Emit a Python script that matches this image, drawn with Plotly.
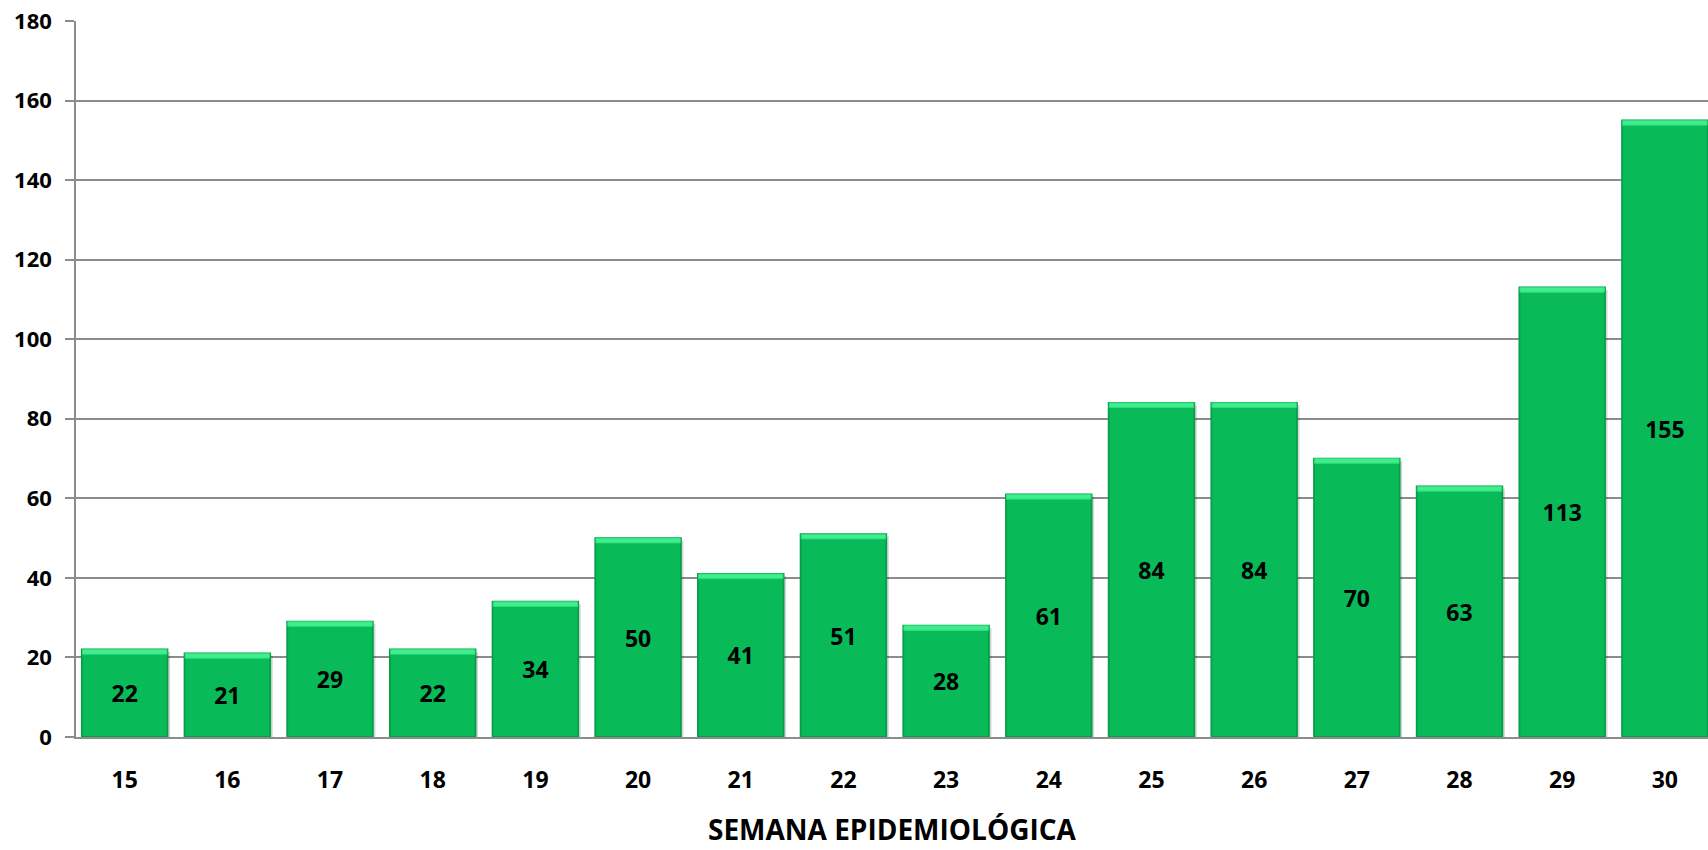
import plotly.graph_objects as go

semanas = ["15", "16", "17", "18", "19", "20", "21", "22", "23", "24", "25", "26", "27", "28", "29", "30"]
casos = [22, 21, 29, 22, 34, 50, 41, 51, 28, 61, 84, 84, 70, 63, 113, 155]
y_ticks = [0, 20, 40, 60, 80, 100, 120, 140, 160, 180]
x_title = "SEMANA EPIDEMIOLÓGICA"

FONT = "Open Sans"
BAR_W = 0.834
bevel = 1.2   # height of top highlight in data units
shadow_dx = 0.025  # shadow shift (category units)

fig = go.Figure()
# soft shadow behind each bar
fig.add_trace(go.Bar(
    x=semanas, y=[v - 0.6 for v in casos],
    marker=dict(color="rgba(0,0,0,0.16)", line=dict(width=0)),
    width=BAR_W, offset=-BAR_W / 2 + shadow_dx, hoverinfo="skip",
))
fig.add_trace(go.Bar(
    x=semanas, y=casos,
    marker=dict(color="#08BA58", line=dict(color="#069E4A", width=1.8)),
    text=[str(v) for v in casos],
    textposition="inside", insidetextanchor="middle",
    textfont=dict(family=FONT, size=23, color="black", weight="bold"),
    width=BAR_W, hoverinfo="x+y",
))
fig.add_trace(go.Bar(
    x=semanas, y=[bevel] * len(casos), base=[v - bevel for v in casos],
    marker=dict(color="#40EE8F", line=dict(color="#2FD877", width=1)),
    width=BAR_W - 0.012, hoverinfo="skip",
))

fig.add_annotation(
    text=x_title, xref="paper", yref="paper", x=0.5, y=0,
    xanchor="center", yanchor="middle", yshift=-92, showarrow=False,
    borderpad=0,
    font=dict(family=FONT, size=28, color="black", weight="bold"),
)

fig.update_layout(
    barmode="overlay",
    showlegend=False,
    width=1708, height=850,
    margin=dict(l=76, r=0, t=21, b=113),
    paper_bgcolor="white", plot_bgcolor="white",
    xaxis=dict(
        type="category",
        range=[-0.474, 15.42],
        showline=True, linecolor="#8c8c8c", linewidth=1.5,
        showgrid=False, ticks="",
        tickfont=dict(family=FONT, size=23, color="black", weight="bold"),
        ticklabelstandoff=22,
    ),
    yaxis=dict(
        range=[0, 180], tickvals=y_ticks,
        showline=True, linecolor="#8c8c8c", linewidth=1.5,
        showgrid=True, gridcolor="#8c8c8c", gridwidth=1.5,
        ticks="outside", ticklen=9, tickcolor="#8c8c8c", tickwidth=1.5,
        ticklabelstandoff=9,
        tickfont=dict(family=FONT, size=22, color="black", weight="bold"),
        zeroline=False,
    ),
)

fig.write_html("out.html", config={"displayModeBar": False},
               post_script="document.body.style.margin='0';")
